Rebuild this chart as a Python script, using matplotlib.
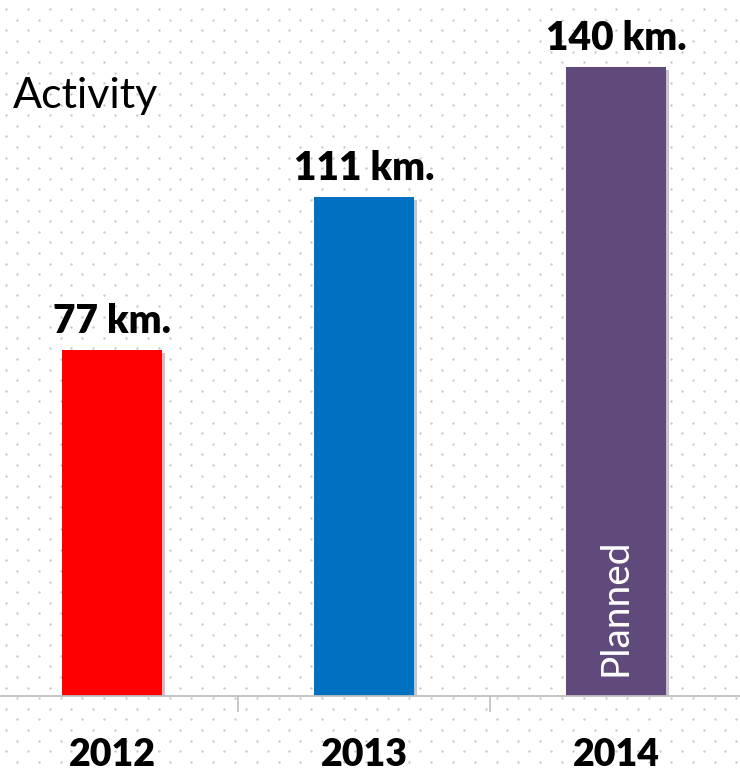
import numpy as np
import matplotlib
matplotlib.use('Agg')
import matplotlib.pyplot as plt
import matplotlib.patheffects as pe

years = ['2012', '2013', '2014']
km = [77, 111, 140]
bar_colors = ['#FF0000', '#0070C0', '#604A7B']
value_labels = ['77 km.', '111 km.', '140 km.']

plt.rcParams['font.family'] = ['Lato', 'DejaVu Sans']

W, H = 740, 770
fig = plt.figure(figsize=(W / 100, H / 100), dpi=100)

# dotted background pattern
bg = fig.add_axes([0, 0, 1, 1], zorder=0)
bg.set_xlim(0, W)
bg.set_ylim(H, 0)
bg.axis('off')
dx, dy = 21.8, 10.6
rows = np.arange(9.3, H, dy)
for k, yy in enumerate(rows):
    x0 = 6 if k % 2 == 0 else 6 + dx / 2
    xs = np.arange(x0, W, dx)
    bg.scatter(xs, np.full_like(xs, yy), s=3, color='#c8c8c8', linewidths=0)

# main bar axes
ax = fig.add_axes([0, 74 / H, 1, 696 / H], zorder=1)
ax.patch.set_alpha(0)
x = np.arange(len(years))
bars = ax.bar(x, km, width=0.397, color=bar_colors, zorder=2)
for b in bars:
    b.set_path_effects([pe.SimplePatchShadow(offset=(2, -2), alpha=0.25), pe.Normal()])

ax.set_xlim(-112 / 252, (W - 112) / 252)
ax.set_ylim(0, 696 / 4.494)

for s in ['top', 'right', 'left']:
    ax.spines[s].set_visible(False)
ax.spines['bottom'].set_color('#bfbfbf')
ax.spines['bottom'].set_linewidth(1.3)
ax.set_yticks([])
ax.set_xticks([])
ax.set_xticks([0.5, 1.5], minor=True)
ax.tick_params(axis='x', which='minor', length=11.5, width=1.2, color='#bfbfbf',
               direction='out', labelbottom=False)

for i, (v, lab) in enumerate(zip(km, value_labels)):
    ax.annotate(lab, xy=(i, v), xytext=(0, 12.2), textcoords='offset points',
                ha='center', va='baseline', fontsize=28, fontweight='heavy',
                annotation_clip=False)
    ax.annotate(years[i], xy=(i, 0), xytext=(0, -50.5), textcoords='offset points',
                ha='center', va='baseline', fontsize=27, fontweight='heavy',
                annotation_clip=False)

ax.annotate('Planned', xy=(2, 0), xytext=(7.9, 14.4), textcoords='offset points',
            rotation=90, rotation_mode='anchor', ha='left', va='baseline',
            fontsize=28, color='white', zorder=3)

fig.text(13 / W, 1 - 108 / H, 'Activity', fontsize=31, ha='left', va='baseline')

fig.savefig('out.png', dpi=100)
